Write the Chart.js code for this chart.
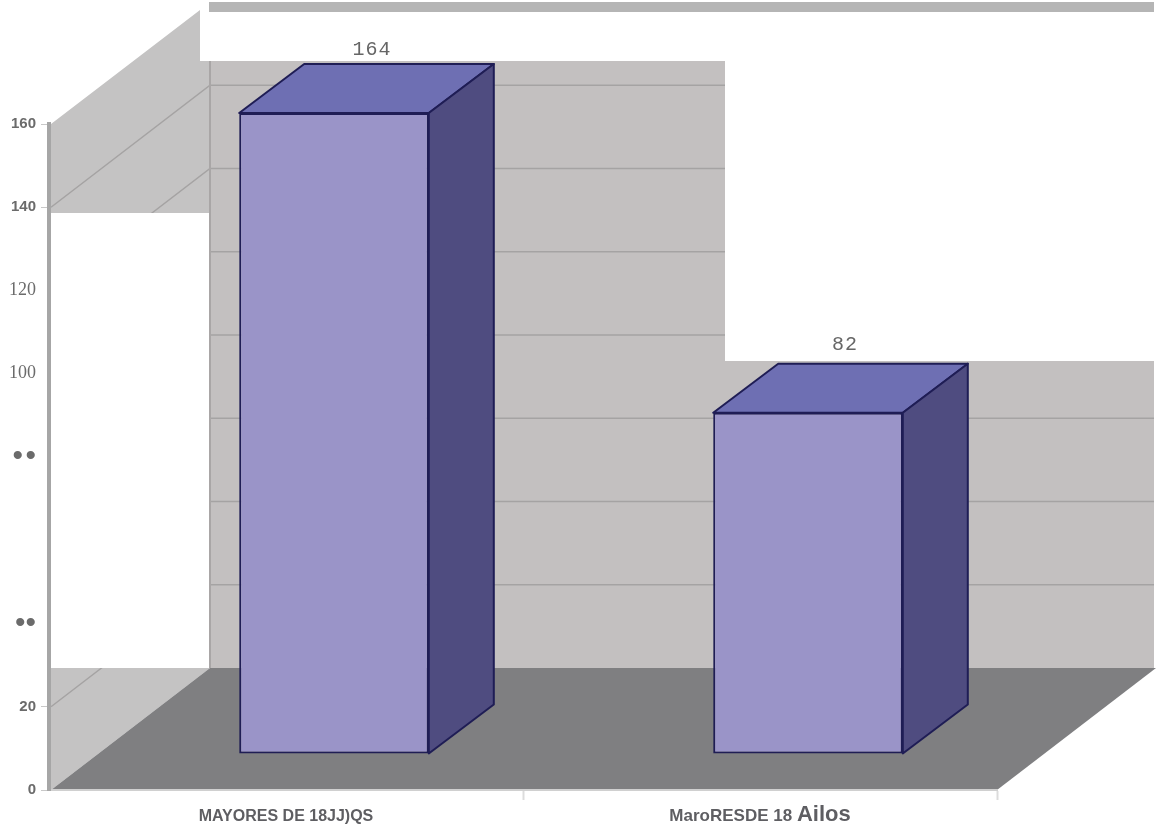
<!DOCTYPE html>
<html>
<head>
<meta charset="utf-8">
<script src="https://cdn.jsdelivr.net/npm/chart.js@4/dist/chart.umd.min.js"></script>
<style>
    html, body { margin: 0; padding: 0; background: #fff; }
    canvas { display: block; }
</style>
</head>
<body>
<canvas id="chart" width="1156" height="831"></canvas>
<script>
// the printed figure says 164 but its front face only reaches about 154 on the axis
const barValues = [154, 82];
const valueLabels = ["164", "82"];
const categoryLabels = [
    [["MAYORES DE 18JJ)QS", 16]],
    [["MaroRESDE 18 ", 17], ["Ailos", 22]],
];
const tickLabels = ["0", "20", "••", "", "•\u200A•", "100", "120", "140", "160"];

const BACK_DX = 161, BACK_DY = -122;   // wall depth
const FLOOR_DX = 48, FLOOR_DY = -36;   // bar row sits part way back on the floor
const BAR_DX = 65, BAR_DY = -49;       // bar depth
const LABEL_POS = [[38, -63], [37, -68]];

const walls = {
    id: "walls",
    beforeDraw(chart) {
        const { ctx } = chart;
        const x = chart.scales.x, y = chart.scales.y;
        const left = x.left + 2, right = x.right;
        const y0 = y.getPixelForValue(0), y160 = y.getPixelForValue(160);
        const backLeft = x.left + BACK_DX, backBottom = y0 + BACK_DY;

        ctx.save();
        ctx.fillStyle = "#c4c3c3";
        ctx.beginPath();
        ctx.moveTo(left, y0);
        ctx.lineTo(left, y160);
        ctx.lineTo(200, 10);
        ctx.lineTo(200, 61);
        ctx.lineTo(backLeft, 61);
        ctx.lineTo(backLeft, backBottom);
        ctx.closePath();
        ctx.fill();

        ctx.fillStyle = "#c3c0c0";
        ctx.fillRect(backLeft, 61, 1154 - backLeft, backBottom - 61);

        // grid lines run across the side wall and the back wall
        for (let v = 20; v < 160; v += 20) {
            const py = y.getPixelForValue(v);
            ctx.strokeStyle = "#a5a3a3";
            ctx.lineWidth = 1.5;
            ctx.beginPath();
            ctx.moveTo(left, py);
            ctx.lineTo(backLeft, py + BACK_DY);
            ctx.lineTo(1154, py + BACK_DY);
            ctx.stroke();
        }

        // blanked out areas of the scan
        ctx.fillStyle = "#fff";
        ctx.fillRect(725, 61, 431, 300);
        ctx.fillRect(left, 213, backLeft - left, 455);

        ctx.strokeStyle = "#a9a6a6";
        ctx.lineWidth = 2;
        ctx.beginPath();
        ctx.moveTo(backLeft, 61);
        ctx.lineTo(backLeft, backBottom);
        ctx.stroke();

        ctx.fillStyle = "#b5b5b5";
        ctx.fillRect(209, 2, 945, 10);

        ctx.fillStyle = "#7f7f81";
        ctx.beginPath();
        ctx.moveTo(left, y0);
        ctx.lineTo(backLeft, backBottom);
        ctx.lineTo(1156, backBottom);
        ctx.lineTo(right, y0);
        ctx.closePath();
        ctx.fill();
        ctx.restore();
    },
    beforeDatasetDraw(chart) {
        chart.ctx.save();
        chart.ctx.translate(FLOOR_DX, FLOOR_DY);
    },
    afterDatasetDraw(chart) {
        const { ctx } = chart;
        ctx.strokeStyle = "#1f1d55";
        ctx.lineWidth = 2;
        ctx.lineJoin = "round";
        chart.getDatasetMeta(0).data.forEach((bar, i) => {
            const l = bar.x - bar.width / 2, r = bar.x + bar.width / 2;
            ctx.fillStyle = "#6e6fb3";
            ctx.beginPath();
            ctx.moveTo(l, bar.y);
            ctx.lineTo(l + BAR_DX, bar.y + BAR_DY);
            ctx.lineTo(r + BAR_DX, bar.y + BAR_DY);
            ctx.lineTo(r, bar.y);
            ctx.closePath();
            ctx.fill();
            ctx.stroke();

            ctx.fillStyle = "#4f4c80";
            ctx.beginPath();
            ctx.moveTo(r, bar.y);
            ctx.lineTo(r + BAR_DX, bar.y + BAR_DY);
            ctx.lineTo(r + BAR_DX, bar.base + BAR_DY);
            ctx.lineTo(r, bar.base);
            ctx.closePath();
            ctx.fill();
            ctx.stroke();

            ctx.fillStyle = "#666";
            ctx.font = "20px 'Liberation Mono'";
            ctx.letterSpacing = "1px";
            ctx.textAlign = "center";
            ctx.textBaseline = "middle";
            ctx.fillText(valueLabels[i], bar.x + LABEL_POS[i][0], bar.y + LABEL_POS[i][1]);
        });
        ctx.restore();
    },
    afterDraw(chart) {
        // the second label mixes two sizes, ticks can't do that
        const { ctx } = chart;
        const x = chart.scales.x;
        ctx.save();
        ctx.fillStyle = "#5e5e62";
        ctx.textBaseline = "alphabetic";
        categoryLabels.forEach((parts, i) => {
            let total = 0;
            parts.forEach(([text, size]) => {
                ctx.font = "bold " + size + "px 'Liberation Sans'";
                total += ctx.measureText(text).width;
            });
            let px = x.getPixelForValue(i) - total / 2;
            parts.forEach(([text, size]) => {
                ctx.font = "bold " + size + "px 'Liberation Sans'";
                ctx.fillText(text, px, 821);
                px += ctx.measureText(text).width;
            });
        });
        ctx.restore();
    },
};

function tickFont(ctx) {
    const label = tickLabels[ctx.index] || "";
    if (label === "100" || label === "120") return { family: "'Liberation Serif'", size: 18 };
    if (label.includes("•")) return { family: "'Liberation Sans'", size: 30 };
    return { family: "'Liberation Sans'", size: 15, weight: "bold" };
}

// scan only kept the tick marks at both ends of the axis
function yTickColor(ctx) {
    const label = tickLabels[ctx.index] || "";
    return ["0", "20", "140", "160"].includes(label) ? "#c8c8c8" : "transparent";
}

new Chart(document.getElementById("chart").getContext("2d"), {
    type: "bar",
    data: {
        labels: categoryLabels.map(parts => parts.map(p => p[0]).join("")),
        datasets: [{
            data: barValues,
            backgroundColor: "#9a94c8",
            borderColor: "#1f1d55",
            borderWidth: 2,
            borderSkipped: false,
            barPercentage: 0.4,
            categoryPercentage: 1,
            clip: false,
        }],
    },
    plugins: [walls],
    options: {
        responsive: false,
        animation: false,
        layout: { padding: { top: 124, right: 159, left: 0, bottom: 0 } },
        plugins: { legend: { display: false }, tooltip: { enabled: false } },
        scales: {
            x: {
                ticks: { display: false },
                grid: {
                    drawOnChartArea: false,
                    tickLength: 10,
                    tickWidth: 2,
                    tickColor: ctx => (ctx.index === 0 ? "transparent" : "#dcdcdc"),
                },
                border: { color: "#d0d0d0", width: 2 },
                afterFit(scale) { scale.height = 41; },
            },
            y: {
                min: 0,
                max: 160,
                ticks: {
                    stepSize: 20,
                    padding: 5,
                    color: "#6b6b6b",
                    font: tickFont,
                    callback: (value, i) => tickLabels[i],
                },
                grid: { drawOnChartArea: false, tickLength: 8, tickColor: yTickColor },
                border: { color: "#a6a6a6", width: 4 },
                afterFit(scale) { scale.width = 49; },
            },
        },
    },
});
</script>
</body>
</html>
